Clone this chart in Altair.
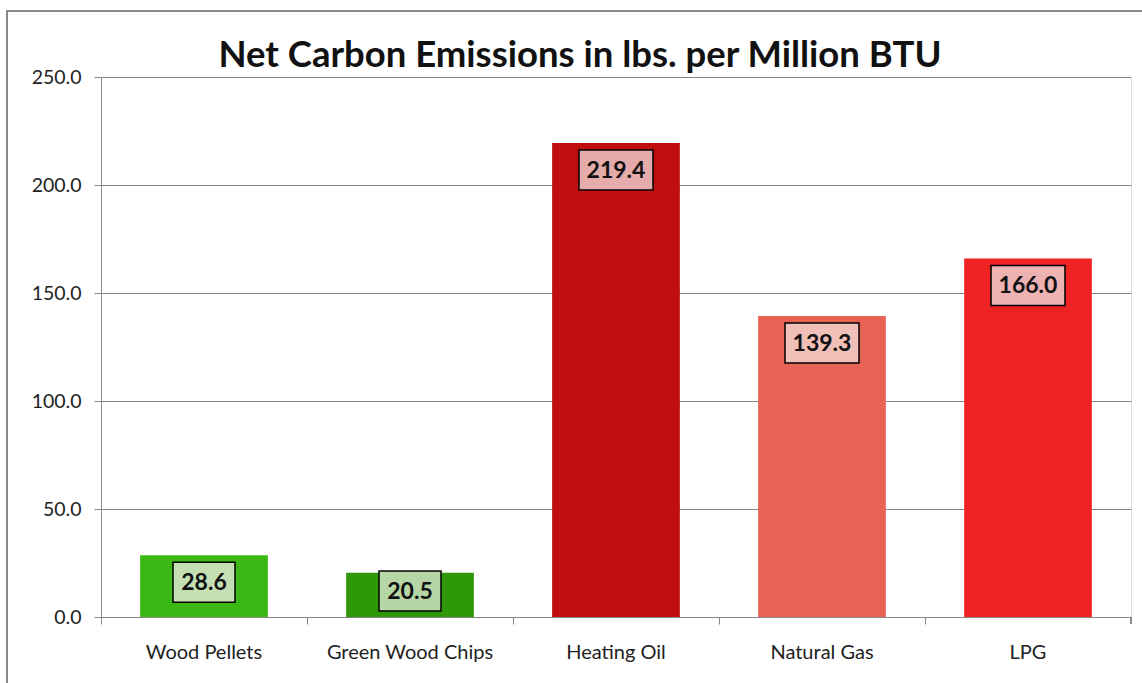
import altair as alt
import pandas as pd

categories = ["Wood Pellets", "Green Wood Chips", "Heating Oil", "Natural Gas", "LPG"]
values = [28.6, 20.5, 219.4, 139.3, 166.0]
bar_colors = ["#3cb814", "#2e9808", "#c00d0d", "#e96355", "#ee2222"]
box_colors = ["#c4e0b2", "#b6d6a6", "#e6abab", "#f0bfb8", "#eeb2b2"]

df = pd.DataFrame({"cat": categories, "val": values, "label": [f"{v:.1f}" for v in values]})

W, H = 1030, 540
FONT = "Lato"

x_enc = alt.X("cat:N", sort=categories,
              scale=alt.Scale(paddingInner=0.38, paddingOuter=0.19),
              axis=alt.Axis(title=None, labelFont=FONT, labelFontSize=20, labelColor="#222",
                            labelAngle=0, labelPadding=18, domainColor="#888", tickColor="#888",
                            tickSize=7, bandPosition=-0.3047, grid=False))

bars = alt.Chart(df).mark_bar().encode(
    x=x_enc,
    y=alt.Y("val:Q", scale=alt.Scale(domain=[0, 250], nice=False, zero=True),
            axis=alt.Axis(title=None, values=[0, 50, 100, 150, 200, 250], format=".1f",
                          labelFont=FONT, labelFontSize=19.5, labelColor="#222", labelPadding=13,
                          domainColor="#888", tickColor="#888", tickSize=7,
                          gridColor="#888", gridWidth=1)),
    color=alt.Color("cat:N", sort=categories,
                    scale=alt.Scale(domain=categories, range=bar_colors), legend=None),
)

base = alt.Chart(df).transform_calculate(
    ly="max(datum.val - 12.5, 12)",
    bw="length(datum.label) * 12 + 14",
)

boxes = base.mark_bar(yOffset=-20, y2Offset=20, stroke="black", strokeWidth=1.5).encode(
    x=alt.X("cat:N", sort=categories),
    y=alt.Y("ly:Q"),
    y2="ly:Q",
    size=alt.Size("bw:Q", scale=None, legend=None),
    fill=alt.Fill("cat:N", sort=categories,
                  scale=alt.Scale(domain=categories, range=box_colors), legend=None),
)

texts = base.mark_text(font=FONT, fontSize=23, fontWeight="bold", color="#111",
                       baseline="middle", dy=1).encode(
    x=alt.X("cat:N", sort=categories),
    y=alt.Y("ly:Q"),
    text="label:N",
)

end_tick = alt.Chart(df).mark_rule(color="#888").encode(
    x=alt.value(W), y=alt.value(H), y2=alt.value(H + 7)
)

frame = alt.Chart(df).mark_rect(fill=None, stroke="#888", strokeWidth=1.5).encode(
    x=alt.value(-94), x2=alt.value(W + 40), y=alt.value(-66), y2=alt.value(H + 100)
)

chart = alt.layer(bars, boxes, texts, end_tick, frame).properties(
    width=W, height=H,
    title=alt.TitleParams("Net Carbon Emissions in lbs. per Million BTU",
                          font=FONT, fontSize=36.5, fontWeight="bold", color="#111",
                          anchor="middle", dx=-36, dy=76, offset=12),
    autosize=alt.AutoSizeParams(type="none"),
    padding={"left": 101, "top": 77, "right": 11, "bottom": 66},
).configure_view(stroke=None).configure(background="white")

chart.save("out.html", embed_options={"renderer": "svg", "actions": False})
